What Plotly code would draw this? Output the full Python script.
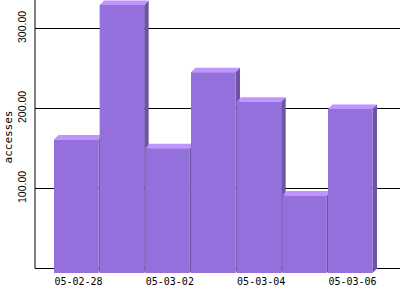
import plotly.graph_objects as go

# ---- data ----
dates = ["05-02-28", "05-03-01", "05-03-02", "05-03-03", "05-03-04", "05-03-05", "05-03-06"]
accesses = [167, 335, 156, 251, 214, 97, 205]
y_tick_values = [100, 200, 300]
y_title = "accesses"

# ---- style ----
FRONT = "#9370DB"
TOP = "#BF94FF"
SIDE = "#6E54A4"
bar_w = 0.975      # front face width (category units)
dx = 0.0985        # 3D depth, horizontal (category units)
dy = 5.6           # 3D depth, vertical (value units)

idx = list(range(len(dates)))
y_min, y_max = -6.875, 335.625

fig = go.Figure()

# side & top faces (scatter polygons built from the data values)
for i, v in zip(idx, accesses):
    xl = i - bar_w / 2
    xr = i + bar_w / 2
    fig.add_trace(go.Scatter(
        x=[xr, xr + dx, xr + dx, xr, xr],
        y=[-dy, 0, v, v - dy, -dy],
        fill="toself", fillcolor=SIDE, mode="lines", line=dict(width=0, color=SIDE),
        hoverinfo="skip", showlegend=False))
    fig.add_trace(go.Scatter(
        x=[xl, xr, xr + dx, xl + dx, xl],
        y=[v - dy, v - dy, v, v, v - dy],
        fill="toself", fillcolor=TOP, mode="lines", line=dict(width=0, color=TOP),
        hoverinfo="skip", showlegend=False))

# front faces as bars on an overlaid subplot so they sit above the side faces
fig.add_trace(go.Bar(
    x=idx, y=accesses, base=-dy, width=bar_w,
    marker=dict(color=FRONT, line=dict(width=0)),
    xaxis="x2", yaxis="y2", showlegend=False, hoverinfo="y"))

fig.update_layout(
    width=400, height=300,
    margin=dict(l=35, r=0, t=0, b=26),
    paper_bgcolor="white", plot_bgcolor="white",
    showlegend=False,
    xaxis=dict(
        range=[-0.903, 7.089],
        tickmode="array",
        tickvals=[i + dx / 2 for i in idx[::2]],
        ticktext=dates[::2],
        showgrid=False, zeroline=False, showline=False,
        ticks="",
        tickfont=dict(family="DejaVu Sans Mono", size=10, color="black"),
    ),
    xaxis2=dict(range=[-0.903, 7.089], overlaying="x", visible=False),
    yaxis=dict(
        range=[y_min, y_max],
        tickmode="array",
        tickvals=y_tick_values,
        tickformat=".2f",
        tickangle=-90,
        showgrid=True, gridcolor="black", gridwidth=1,
        zeroline=True, zerolinecolor="black", zerolinewidth=1,
        showline=False,
        ticks="",
        ticklabelstandoff=6,
        tickfont=dict(family="Liberation Sans Narrow, Liberation Sans", size=10.5, color="black"),
        title=dict(text=y_title, standoff=1,
                   font=dict(family="DejaVu Sans Mono", size=11, color="black")),
    ),
    yaxis2=dict(range=[y_min, y_max], overlaying="y", visible=False),
    shapes=[dict(type="line", xref="paper", x0=0, x1=0, yref="y", y0=0, y1=y_max,
                 line=dict(color="black", width=1))],
)

fig.write_html("out.html")
